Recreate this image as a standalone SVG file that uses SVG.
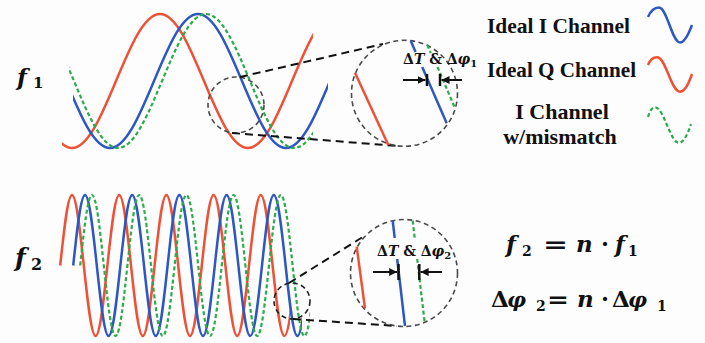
<svg xmlns="http://www.w3.org/2000/svg" xmlns:xlink="http://www.w3.org/1999/xlink" width="705" height="343" viewBox="0 0 705 343">
<style>
.red{fill:none;stroke:#EE5236;stroke-width:2.5}
.blue{fill:none;stroke:#2E58C0;stroke-width:2.5}
.green{fill:none;stroke:#2DAA4A;stroke-width:2.2;stroke-dasharray:4 2.5}
.zc{fill:none;stroke:#4a4a4a;stroke-width:1.6;stroke-dasharray:5 3.5}
.conn{fill:none;stroke:#111;stroke-width:2;stroke-dasharray:8 5}
.bar{stroke:#111;stroke-width:2.5}
.arr{stroke:#111;stroke-width:2;marker-end:url(#ah)}
text{fill:#111}
.i{font-style:italic}
</style>
<defs>
<marker id="ah" viewBox="0 0 10 10" refX="10" refY="5" markerWidth="8" markerHeight="8" markerUnits="userSpaceOnUse" orient="auto"><path d="M0,0 L10,5 L0,10 z" fill="#111"/></marker>
<path id="w1" d="M0,14 c15.92,0 29.65,32.68 44,67 c14.35,34.32 28.08,67 44,67 c15.92,0 29.65,-32.68 44,-67 c14.35,-34.32 28.08,-67 44,-67 c15.92,0 29.65,32.68 44,67 c14.35,34.32 28.08,67 44,67 c15.92,0 29.65,-32.68 44,-67 c14.35,-34.32 28.08,-67 44,-67"/>
<path id="w2" d="M0,265.5
c3.85,-36.12 7.53,-70.5 11.8,-70.5 c4.27,0 7.95,34.38 11.8,70.5 c3.85,36.12 7.53,70.5 11.8,70.5 c4.27,0 7.95,-34.38 11.8,-70.5
c3.85,-36.12 7.53,-70.5 11.8,-70.5 c4.27,0 7.95,34.38 11.8,70.5 c3.85,36.12 7.53,70.5 11.8,70.5 c4.27,0 7.95,-34.38 11.8,-70.5
c3.85,-36.12 7.53,-70.5 11.8,-70.5 c4.27,0 7.95,34.38 11.8,70.5 c3.85,36.12 7.53,70.5 11.8,70.5 c4.27,0 7.95,-34.38 11.8,-70.5
c3.85,-36.12 7.53,-70.5 11.8,-70.5 c4.27,0 7.95,34.38 11.8,70.5 c3.85,36.12 7.53,70.5 11.8,70.5 c4.27,0 7.95,-34.38 11.8,-70.5
c3.85,-36.12 7.53,-70.5 11.8,-70.5 c4.27,0 7.95,34.38 11.8,70.5 c3.85,36.12 7.53,70.5 11.8,70.5 c4.27,0 7.95,-34.38 11.8,-70.5"/>
<clipPath id="k1r"><rect x="62" y="0" width="251" height="170"/></clipPath>
<clipPath id="k1b"><rect x="73" y="0" width="255" height="170"/></clipPath>
<clipPath id="k1g"><rect x="69" y="0" width="244" height="170"/></clipPath>
<clipPath id="k2r"><rect x="0" y="170" width="290" height="173"/></clipPath>
<clipPath id="k2b"><rect x="0" y="170" width="302" height="173"/></clipPath>
<clipPath id="k2g"><rect x="0" y="170" width="310" height="173"/></clipPath>
</defs>
<rect width="705" height="343" fill="#fdfdfe"/>

<g id="plot-f1">
<g clip-path="url(#k1r)"><use xlink:href="#w1" x="-16" class="red"/></g>
<g clip-path="url(#k1b)"><use xlink:href="#w1" x="22" class="blue"/></g>
<g clip-path="url(#k1g)"><use xlink:href="#w1" x="30" class="green"/></g>
</g>

<g id="plot-f2">
<g clip-path="url(#k2r)"><use xlink:href="#w2" x="60.2" class="red"/></g>
<g clip-path="url(#k2b)"><use xlink:href="#w2" x="73.2" class="blue"/></g>
<g clip-path="url(#k2g)"><use xlink:href="#w2" x="80.2" class="green"/></g>
</g>

<g id="label-f1"><text font-family="DejaVu Serif" font-weight="bold" font-size="23" x="17" y="85"><tspan class="i">f</tspan><tspan x="33" y="88" font-size="15">1</tspan></text></g>
<g id="label-f2"><text font-family="DejaVu Serif" font-weight="bold" font-size="25" x="15" y="266"><tspan class="i">f</tspan><tspan x="31" y="270" font-size="16">2</tspan></text></g>

<g id="zoom-small-1"><circle class="zc" cx="236" cy="105" r="28"/></g>
<g id="zoom-small-2"><circle class="zc" cx="292" cy="301" r="18" style="stroke:#222"/></g>

<g id="connectors">
<line class="conn" x1="240" y1="77" x2="383" y2="44"/>
<line class="conn" x1="232" y1="133" x2="398" y2="146"/>
<line class="conn" x1="289" y1="283" x2="366" y2="235"/>
<line class="conn" x1="293" y1="319" x2="397" y2="326"/>
</g>

<g id="zoom-big-1">
<circle class="zc" cx="404.5" cy="93.3" r="53"/>
<line class="red" x1="355" y1="72.7" x2="388.3" y2="145"/>
<line class="blue" x1="410.7" y1="40.7" x2="415.6" y2="52"/>
<line class="blue" x1="422.2" y1="67" x2="446.7" y2="123.3"/>
<line class="green" x1="427.3" y1="45" x2="430.8" y2="53"/>
<line class="green" x1="437.5" y1="67" x2="455" y2="108.3"/>
<line class="bar" x1="427" y1="74" x2="427" y2="86"/>
<line class="bar" x1="440" y1="74" x2="440" y2="86"/>
<line class="arr" x1="403" y1="80" x2="425.5" y2="80"/>
<line class="arr" x1="462" y1="80" x2="441.5" y2="80"/>
<text font-family="DejaVu Serif" font-weight="bold" font-size="14" x="403" y="63.5">Δ<tspan class="i">T</tspan> &amp; Δ<tspan class="i">φ</tspan><tspan font-size="10" dy="3">1</tspan></text>
</g>

<g id="zoom-big-2">
<circle class="zc" cx="404" cy="273" r="53.5"/>
<line class="red" x1="356.7" y1="246.7" x2="365" y2="308.3"/>
<line class="blue" x1="392.7" y1="220.7" x2="394.7" y2="238"/>
<line class="blue" x1="397.2" y1="259" x2="405" y2="326"/>
<line class="green" x1="412.7" y1="220.7" x2="414.7" y2="238"/>
<line class="green" x1="417.2" y1="259" x2="424.5" y2="321"/>
<line class="bar" x1="398.5" y1="264" x2="398.5" y2="280"/>
<line class="bar" x1="419.3" y1="264" x2="419.3" y2="280"/>
<line class="arr" x1="373" y1="272" x2="397.2" y2="272"/>
<line class="arr" x1="442" y1="272" x2="420.6" y2="272"/>
<text font-family="DejaVu Serif" font-weight="bold" font-size="14" x="377" y="256">Δ<tspan class="i">T</tspan> &amp; Δ<tspan class="i">φ</tspan><tspan font-size="10" dy="3">2</tspan></text>
</g>

<g id="legend-i">
<text font-family="Liberation Serif" font-weight="bold" font-size="22" x="487" y="33" textLength="143" lengthAdjust="spacingAndGlyphs">Ideal I Channel</text>
<path class="blue" d="M648,17 C651,10 655,7.5 659,7.5 C667,7.5 672,42.5 680,42.5 C685,42.5 689,33 692,25"/>
</g>
<g id="legend-q">
<text font-family="Liberation Serif" font-weight="bold" font-size="22" x="487" y="77" textLength="149" lengthAdjust="spacingAndGlyphs">Ideal Q Channel</text>
<path class="red" d="M648,65 C650,60 653,57.3 657,57.3 C666,57.3 671,91.7 680,91.7 C685,91.7 689,83 692,74"/>
</g>
<g id="legend-mismatch">
<text font-family="Liberation Serif" font-weight="bold" font-size="22" x="562" y="119" text-anchor="middle">I Channel</text>
<text font-family="Liberation Serif" font-weight="bold" font-size="22" x="560" y="144" text-anchor="middle">w/mismatch</text>
<path class="green" d="M648,117 C650,111 652,107.3 655,107.3 C664,107.3 670,142.7 679,142.7 C684,142.7 688,133 691,124"/>
</g>

<g id="formula">
<text font-family="DejaVu Serif" font-weight="bold" font-size="23" y="252"><tspan class="i" x="506">f</tspan><tspan x="522" y="256" font-size="14">2</tspan><tspan x="543" y="252" textLength="25" lengthAdjust="spacingAndGlyphs">=</tspan><tspan class="i" x="576">n</tspan><tspan x="601">·</tspan><tspan class="i" x="615">f</tspan><tspan x="628" y="256" font-size="14">1</tspan></text>
<text font-family="DejaVu Serif" font-weight="bold" font-size="23" y="307"><tspan x="491">Δ</tspan><tspan class="i" x="507" font-size="21">φ</tspan><tspan x="536" y="311" font-size="14">2</tspan><tspan x="547" y="307" textLength="22" lengthAdjust="spacingAndGlyphs">=</tspan><tspan class="i" x="577">n</tspan><tspan x="601">·</tspan><tspan x="612">Δ</tspan><tspan class="i" x="628" font-size="21">φ</tspan><tspan x="657" y="311" font-size="14">1</tspan></text>
</g>
</svg>
